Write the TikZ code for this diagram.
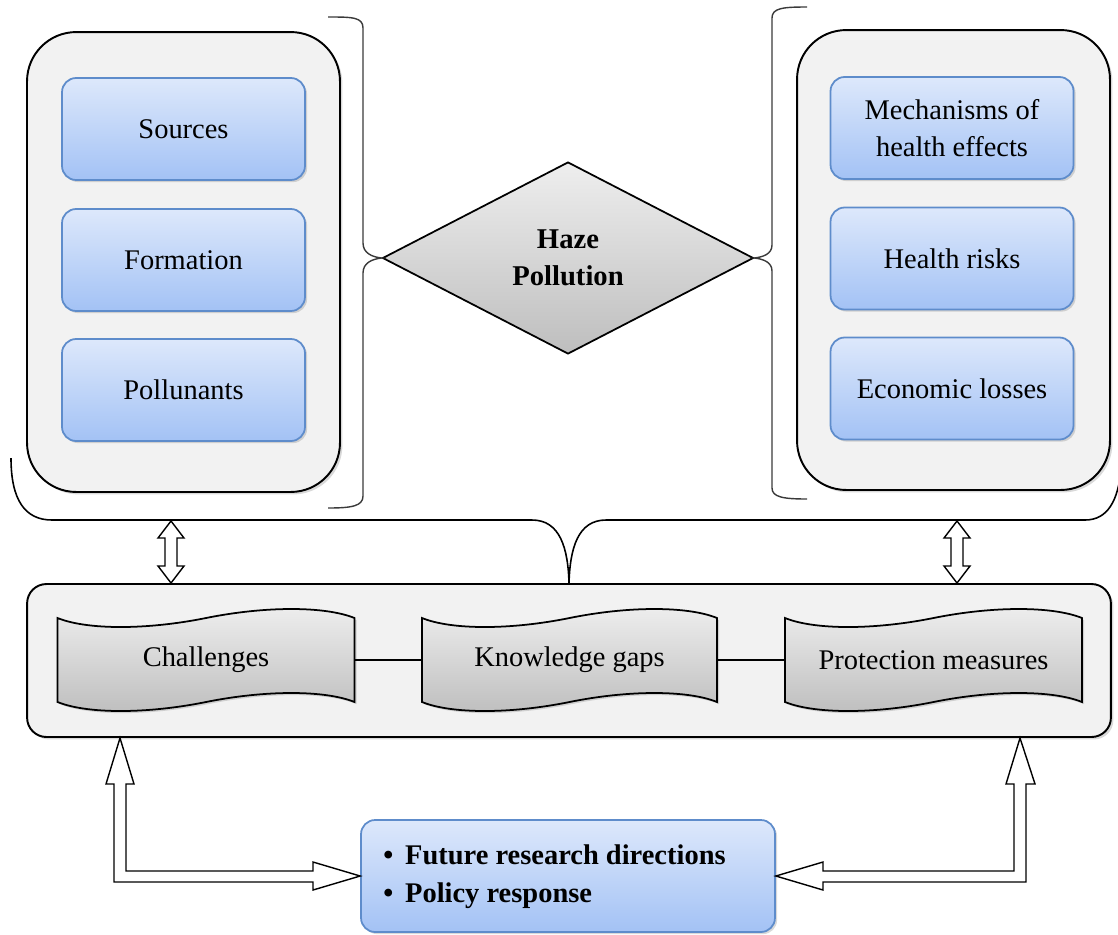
\documentclass[tikz,border=0pt]{standalone}
\usepackage{fontspec}
\setmainfont{Liberation Serif}
\usetikzlibrary{shapes.geometric,shadows,calc}
\definecolor{boxgray}{HTML}{F2F2F2}
\definecolor{bluetop}{HTML}{DDE8FB}
\definecolor{bluebot}{HTML}{A3C2F5}
\definecolor{blueedge}{HTML}{5E8CCB}
\definecolor{graytop}{HTML}{EEEEEE}
\definecolor{graybot}{HTML}{BEBEBE}
\definecolor{bracecol}{HTML}{3A3A3A}
\tikzset{
  container/.style={draw=black, line width=1.1pt, fill=boxgray, rounded corners=28pt,
    drop shadow={opacity=0.3, shadow xshift=1.4pt, shadow yshift=-1.4pt}},
  bluebox/.style={draw=blueedge, line width=1pt, top color=bluetop, bottom color=bluebot,
    rounded corners=8pt, minimum width=4.86cm, minimum height=2.04cm, align=center,
    drop shadow={opacity=0.3, shadow xshift=1.2pt, shadow yshift=-1.2pt}},
  diamondbox/.style={shape=diamond, draw=black, line width=1pt, top color=graytop, bottom color=graybot,
    minimum width=7.42cm, minimum height=3.84cm, aspect=1.93, inner sep=0pt, align=center,
    font=\fontsize{16.3}{21}\selectfont\bfseries},
  tapestyle/.style={draw=black, line width=1pt, top color=graytop, bottom color=graybot,
    drop shadow={opacity=0.3, shadow xshift=1.2pt, shadow yshift=-1.2pt}},
  bracestyle/.style={draw=bracecol, line width=0.8pt},
  bigbrace/.style={draw=black, line width=0.9pt},
  hollow/.style={draw=black, line width=0.8pt, fill=white, line join=miter},
  link/.style={draw=black, line width=0.9pt},
}
\newcommand\tapeshape[6]{%
  \pgfmathsetmacro\tpXa{#2-#4/2}%
  \pgfmathsetmacro\tpXb{#2+#4/2}%
  \pgfmathsetmacro\tpYa{#3-#5/2}%
  \pgfmathsetmacro\tpYb{#3+#5/2}%
  \pgfmathsetmacro\tpPa{#2-0.4*#4}%
  \pgfmathsetmacro\tpPb{#2-0.2*#4}%
  \pgfmathsetmacro\tpPc{#2+0.2*#4}%
  \pgfmathsetmacro\tpPd{#2+0.4*#4}%
  \draw[tapestyle] (\tpXa,\tpYa) .. controls (\tpPa,\tpYa+12) and (\tpPb,\tpYa+12) .. (#2,\tpYa)
    .. controls (\tpPc,\tpYa-12) and (\tpPd,\tpYa-12) .. (\tpXb,\tpYa) -- (\tpXb,\tpYb)
    .. controls (\tpPd,\tpYb-12) and (\tpPc,\tpYb-12) .. (#2,\tpYb)
    .. controls (\tpPb,\tpYb+12) and (\tpPa,\tpYb+12) .. (\tpXa,\tpYb) -- cycle;
  \node[minimum width=#4*0.02cm, minimum height=#5*0.02cm, inner sep=0pt] (#1) at (#2,#3) {#6};
}
\begin{document}
\begin{tikzpicture}[x=0.02cm, y=-0.02cm, font=\fontsize{16.2}{21}\selectfont]
\useasboundingbox (0,0) rectangle (1118,934);

% top containers
\node[container, minimum width=6.26cm, minimum height=9.2cm] (lc) at (183.5,262) {};
\node[container, minimum width=6.26cm, minimum height=9.2cm] (rc) at (953.5,260) {};

\node[bluebox] (src) at (183.5,129) {Sources};
\node[bluebox] (frm) at (183.5,260) {Formation};
\node[bluebox] (pol) at (183.5,390) {Pollunants};

\node[bluebox] (mech) at (952,128) {Mechanisms of\\health effects};
\node[bluebox] (hr) at (952,258.5) {Health risks};
\node[bluebox] (eco) at (952,388.5) {Economic losses};

% diamond
\node[diamondbox] (haze) at (568,258) {Haze\\Pollution};

% side braces
\draw[bracestyle] (328,17) .. controls (352,17) and (363,17) .. (363,28) -- (363,243)
  .. controls (363,253) and (372,257) .. (haze.west)
  .. controls (372,259) and (363,263) .. (363,273) -- (363,496)
  .. controls (363,506) and (352,508) .. (328,508);
\draw[bracestyle] (807,7) .. controls (783,7) and (772,8) .. (772,18) -- (772,245)
  .. controls (772,254) and (763,257) .. (haze.east)
  .. controls (763,259) and (772,262) .. (772,271) -- (772,488)
  .. controls (772,497) and (783,499) .. (807,499);

% bottom container
\node[container, rounded corners=11pt, minimum width=21.68cm, minimum height=3.06cm] (bc) at (569,660.5) {};

% big brace
\draw[bigbrace] (11,458) .. controls (11,500) and (25,520) .. (52,520) -- (532,520)
  .. controls (560,520) and (568,548) .. (bc.north)
  .. controls (570,548) and (578,520) .. (606,520) -- (1085,520)
  .. controls (1108,520) and (1118,500) .. (1121,470);

% tapes
\tapeshape{ch}{206}{660}{297}{84}{Challenges}
\tapeshape{kg}{569.5}{660}{295}{84}{Knowledge gaps}
\tapeshape{pm}{933.5}{660}{297}{84}{Protection measures}
\draw[link] (ch.east) -- (kg.west);
\draw[link] (kg.east) -- (pm.west);

% bottom blue box
\node[bluebox, minimum width=8.28cm, minimum height=2.24cm] (fut) at (568,876) {};
\node[anchor=west, align=left, inner sep=0pt, font=\fontsize{16.2}{21.5}\selectfont\bfseries] (futtxt) at (383,877)
  {•\, Future research directions\\•\, Policy response};

% double hollow arrows
\draw[hollow, shift={(171,0)}] (0,521) -- (13,538) -- (6,538) -- (6,566) -- (13,566) -- (0,583)
  -- (-13,566) -- (-6,566) -- (-6,538) -- (-13,538) -- cycle;
\draw[hollow, shift={(957,0)}] (0,521) -- (13,538) -- (6,538) -- (6,566) -- (13,566) -- (0,583)
  -- (-13,566) -- (-6,566) -- (-6,538) -- (-13,538) -- cycle;

% bent hollow arrows
\draw[hollow] (120,738) -- (134,784) -- (126,784) -- (126,871) -- (313,871) -- (313,862)
  -- (fut.west |- 0,876) -- (313,890) -- (313,882) -- (114,882) -- (114,784) -- (106,784) -- cycle;
\draw[hollow] (1020,738) -- (1035,784) -- (1026,784) -- (1026,882) -- (823,882) -- (823,890)
  -- (fut.east |- 0,876) -- (823,862) -- (823,871) -- (1014,871) -- (1014,784) -- (1006,784) -- cycle;
\end{tikzpicture}
\end{document}
